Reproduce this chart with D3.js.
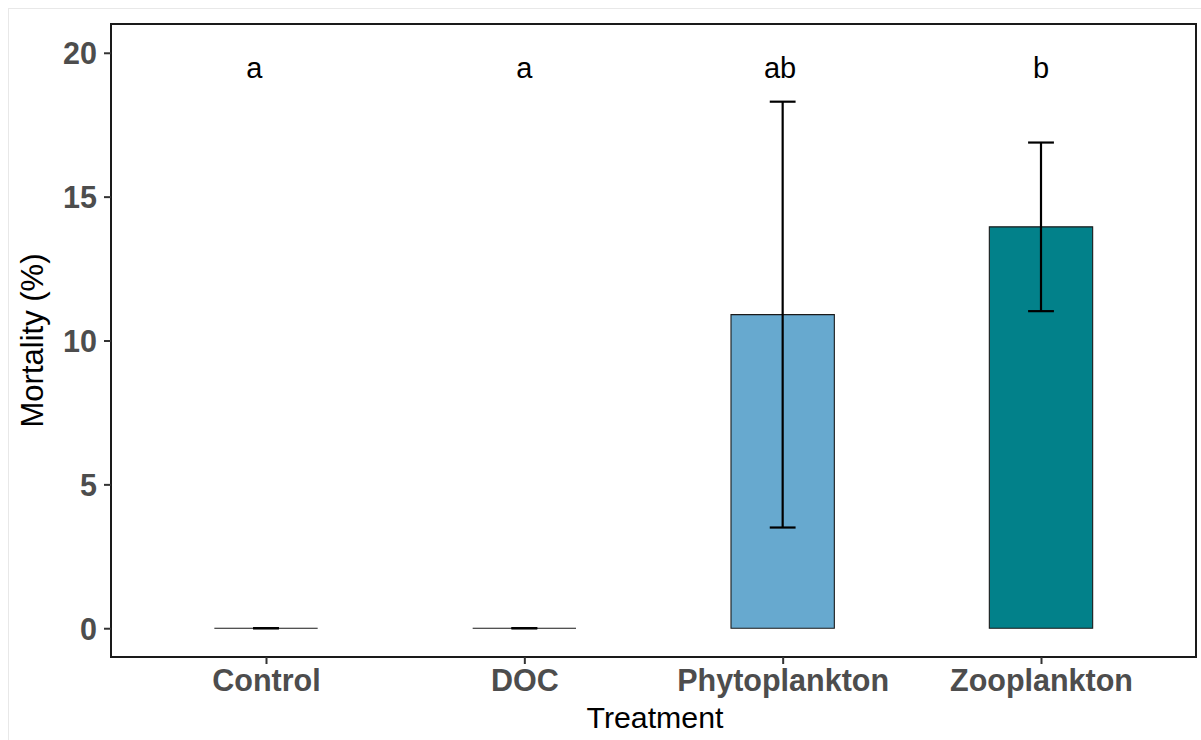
<!DOCTYPE html>
<html>
<head>
<meta charset="utf-8">
<script src="https://cdn.jsdelivr.net/npm/d3@7"></script>
<style>
  html, body { margin: 0; padding: 0; background: #fff; }
  svg { display: block; }
</style>
</head>
<body>
<svg id="chart" width="1201" height="740"></svg>
<script>
// Mortality by treatment: mean ± error, with significance letters
const treatments = ["Control", "DOC", "Phytoplankton", "Zooplankton"];
const meanMortality = [0, 0, 10.9, 13.95];
const errMortality = [0, 0, 7.4, 2.93];
const sigLetters = ["a", "a", "ab", "b"];
const letterX = [0.955, 2, 2.99, 4];
const letterY = 19.5;
const barColors = ["#ffffff", "#ffffff", "#67A9CF", "#02818A"];
const yTicks = [0, 5, 10, 15, 20];

const svg = d3.select("#chart");
const panel = { left: 111, right: 1196, top: 24, bottom: 657 };
const font = "Liberation Sans, Arial, sans-serif";

// faint outer frame
svg.append("rect")
  .attr("x", 8.5).attr("y", 8.5)
  .attr("width", 1300).attr("height", 900)
  .attr("fill", "none").attr("stroke", "#e8e8e8").attr("stroke-width", 1);

const x = d3.scaleLinear().domain([0.4, 4.6]).range([panel.left, panel.right]);
const y = d3.scaleLinear().domain([-1, 21]).range([panel.bottom, panel.top]);
const pos = i => x(i + 1);
const barHalf = 0.2;
const capHalf = 0.05;

const g = svg.append("g");

// bars (paths so zero-height bars still show their outline)
g.selectAll("path.bar")
  .data(treatments)
  .join("path")
  .attr("class", "bar")
  .attr("d", (d, i) => {
    const x0 = x(i + 1 - barHalf), x1 = x(i + 1 + barHalf);
    const y0 = y(0), y1 = y(meanMortality[i]);
    return `M${x0},${y0}H${x1}V${y1}H${x0}Z`;
  })
  .attr("fill", (d, i) => barColors[i])
  .attr("stroke", "#1a1a1a")
  .attr("stroke-width", 1.1);

// error bars
const eb = g.selectAll("g.err").data(treatments).join("g").attr("class", "err")
  .attr("stroke", "#000").attr("stroke-width", 2.2).attr("fill", "none");
eb.append("line")
  .attr("x1", (d, i) => pos(i)).attr("x2", (d, i) => pos(i))
  .attr("y1", (d, i) => y(meanMortality[i] - errMortality[i]))
  .attr("y2", (d, i) => y(meanMortality[i] + errMortality[i]));
eb.append("line")
  .attr("x1", (d, i) => x(i + 1 - capHalf)).attr("x2", (d, i) => x(i + 1 + capHalf))
  .attr("y1", (d, i) => y(meanMortality[i] + errMortality[i]))
  .attr("y2", (d, i) => y(meanMortality[i] + errMortality[i]));
eb.append("line")
  .attr("x1", (d, i) => x(i + 1 - capHalf)).attr("x2", (d, i) => x(i + 1 + capHalf))
  .attr("y1", (d, i) => y(meanMortality[i] - errMortality[i]))
  .attr("y2", (d, i) => y(meanMortality[i] - errMortality[i]));

// significance letters
g.selectAll("text.sig").data(sigLetters).join("text")
  .attr("class", "sig")
  .attr("x", (d, i) => x(letterX[i]))
  .attr("y", y(letterY))
  .attr("dy", "0.36em")
  .attr("text-anchor", "middle")
  .attr("font-family", font)
  .attr("font-size", 29)
  .attr("fill", "#000")
  .text(d => d);

// panel border
svg.append("rect")
  .attr("x", panel.left).attr("y", panel.top)
  .attr("width", panel.right - panel.left).attr("height", panel.bottom - panel.top)
  .attr("fill", "none").attr("stroke", "#1a1a1a").attr("stroke-width", 2);

// y axis
const yAxis = svg.append("g")
  .attr("transform", `translate(${panel.left},0)`)
  .call(d3.axisLeft(y).tickValues(yTicks).tickSize(7).tickPadding(7).tickFormat(d3.format("d")));
yAxis.select(".domain").remove();
yAxis.selectAll(".tick line").attr("stroke", "#333").attr("stroke-width", 2);
yAxis.selectAll(".tick text")
  .attr("font-family", font)
  .attr("font-weight", "bold").attr("font-size", 30.5).attr("fill", "#4D4D4D")
  .attr("dy", "0.36em");

// x axis
const xAxis = svg.append("g")
  .attr("transform", `translate(0,${panel.bottom})`)
  .call(d3.axisBottom(x).tickValues([1, 2, 3, 4]).tickSize(7).tickPadding(4)
    .tickFormat(d => treatments[d - 1]));
xAxis.select(".domain").remove();
xAxis.selectAll(".tick line").attr("stroke", "#333").attr("stroke-width", 2);
xAxis.selectAll(".tick text")
  .attr("font-family", font)
  .attr("font-weight", "bold").attr("font-size", 30.5).attr("fill", "#4D4D4D")
  .attr("dy", "0.74em");

// axis titles
svg.append("text")
  .attr("x", 655).attr("y", 728)
  .attr("text-anchor", "middle")
  .attr("font-family", font)
  .attr("font-size", 30.3).attr("fill", "#000")
  .text("Treatment");
svg.append("text")
  .attr("transform", `translate(43,${(panel.top + panel.bottom) / 2}) rotate(-90)`)
  .attr("text-anchor", "middle")
  .attr("font-family", font)
  .attr("font-size", 31).attr("fill", "#000")
  .text("Mortality (%)");
</script>
</body>
</html>
